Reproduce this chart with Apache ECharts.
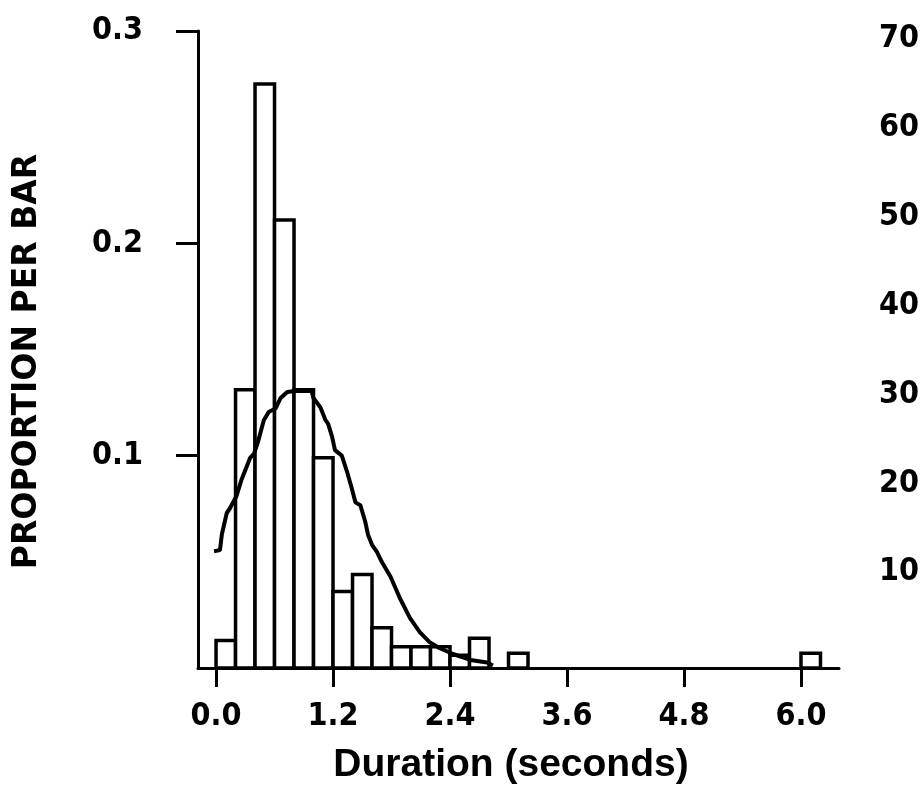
<!DOCTYPE html>
<html lang="en">
<head>
  <meta charset="UTF-8">
  <title>Duration histogram</title>
  <script src="https://cdn.jsdelivr.net/npm/echarts@6/dist/echarts.min.js"></script>
  <style>
    html, body { margin: 0; padding: 0; background: #fff; }
    #main { width: 922px; height: 796px; }
  </style>
</head>
<body>
  <div id="main"></div>
  <script>
    // histogram bins (width 0.2 s), proportion per bar
    var binWidth = 0.2;
    var binStart = [0.0, 0.2, 0.4, 0.6, 0.8, 1.0, 1.2, 1.4, 1.6, 1.8, 2.0, 2.2, 2.4, 2.6, 3.0, 6.0];
    var proportion = [0.013, 0.131, 0.275, 0.211, 0.131, 0.099, 0.036, 0.044, 0.019, 0.010, 0.010, 0.010, 0.006, 0.014, 0.007, 0.007];

    // fitted curve
    var curveX = [-0.02, 0.04, 0.06, 0.11, 0.14, 0.21, 0.26, 0.32, 0.35, 0.39, 0.43, 0.49, 0.54, 0.61, 0.66, 0.73, 0.81,
      0.98, 1.0, 1.07, 1.12, 1.15, 1.19, 1.22, 1.29, 1.34, 1.39, 1.43, 1.48, 1.53, 1.56, 1.60, 1.65, 1.70,
      1.79, 1.89, 1.99, 2.09, 2.19, 2.29, 2.43, 2.61, 2.78, 2.84];
    var curveY = [0.055, 0.0555, 0.063, 0.073, 0.075, 0.081, 0.0885, 0.0955, 0.099, 0.101, 0.1065, 0.1167, 0.1206, 0.1222, 0.127, 0.130, 0.1305,
      0.1305, 0.127, 0.1228, 0.117, 0.115, 0.109, 0.1026, 0.100, 0.093, 0.085, 0.078, 0.0767, 0.069, 0.0626, 0.058, 0.0547, 0.050,
      0.043, 0.0325, 0.0235, 0.0169, 0.0122, 0.0094, 0.0066, 0.0038, 0.0026, 0.0012];

    var xTicks = [0.0, 1.2, 2.4, 3.6, 4.8, 6.0];
    var yTicks = [0.1, 0.2, 0.3];
    var countTicks = [10, 20, 30, 40, 50, 60, 70];

    var barData = binStart.map(function (s, i) { return [s, proportion[i]]; });
    var curveData = curveX.map(function (x, i) { return [x, curveY[i]]; });

    var labelFont = {
      color: '#000',
      fontFamily: '"DejaVu Sans Condensed", "Liberation Sans", sans-serif',
      fontWeight: 'bold',
      fontSize: 32
    };

    var myChart = echarts.init(document.getElementById('main'));

    var option = {
      backgroundColor: '#fff',
      animation: false,
      grid: [
        { left: 198, right: 83, top: 31, bottom: 128, outerBoundsMode: 'none' },
        { left: 198, right: 83, top: 39, bottom: 135, outerBoundsMode: 'none' }
      ],
      xAxis: [{
        type: 'value',
        gridIndex: 0,
        min: -0.185,
        max: 6.39,
        splitLine: { show: false },
        axisLine: { onZero: false, lineStyle: { color: '#000', width: 3 } },
        axisTick: { customValues: xTicks, length: 19, lineStyle: { color: '#000', width: 3 } },
        axisLabel: Object.assign({
          customValues: xTicks,
          margin: 33,
          formatter: function (v) { return v.toFixed(1); }
        }, labelFont),
        name: 'Duration (seconds)',
        nameLocation: 'middle',
        nameGap: 78,
        nameTextStyle: {
          color: '#000',
          fontFamily: '"Liberation Sans", Arial, sans-serif',
          fontWeight: 'bold',
          fontSize: 39,
          padding: [0, 15, 0, 0]
        }
      }, {
        type: 'value',
        gridIndex: 1,
        min: 0,
        max: 1,
        show: false
      }],
      yAxis: [{
        type: 'value',
        gridIndex: 0,
        min: 0,
        max: 0.3,
        splitLine: { show: false },
        axisLine: { show: true, onZero: false, lineStyle: { color: '#000', width: 3 } },
        axisTick: { customValues: yTicks, length: 22, lineStyle: { color: '#000', width: 3 } },
        axisLabel: Object.assign({
          customValues: yTicks,
          margin: 55,
          formatter: function (v) { return v.toFixed(1); }
        }, labelFont),
        name: 'PROPORTION PER BAR',
        nameLocation: 'middle',
        nameGap: 154,
        nameTextStyle: {
          color: '#000',
          fontFamily: '"DejaVu Sans", sans-serif',
          fontWeight: 'bold',
          fontSize: 33,
          padding: [0, 24, 0, 0]
        }
      }, {
        type: 'value',
        gridIndex: 1,
        position: 'right',
        min: 0,
        max: 70,
        interval: 10,
        splitLine: { show: false },
        axisLine: { show: false },
        axisTick: { show: false },
        axisLabel: Object.assign({
          customValues: countTicks,
          margin: 40
        }, labelFont)
      }],
      series: [{
        type: 'custom',
        xAxisIndex: 0,
        yAxisIndex: 0,
        data: barData,
        renderItem: function (params, api) {
          var x0 = api.value(0);
          var p0 = api.coord([x0, api.value(1)]);
          var p1 = api.coord([x0 + binWidth, 0]);
          return {
            type: 'rect',
            shape: { x: p0[0], y: p0[1], width: p1[0] - p0[0], height: p1[1] - p0[1] },
            style: { fill: '#fff', stroke: '#000', lineWidth: 3.5 }
          };
        }
      }, {
        type: 'line',
        xAxisIndex: 0,
        yAxisIndex: 0,
        data: curveData,
        symbol: 'none',
        lineStyle: { color: '#000', width: 4 },
        z: 5
      }]
    };

    myChart.setOption(option);
  </script>
</body>
</html>
